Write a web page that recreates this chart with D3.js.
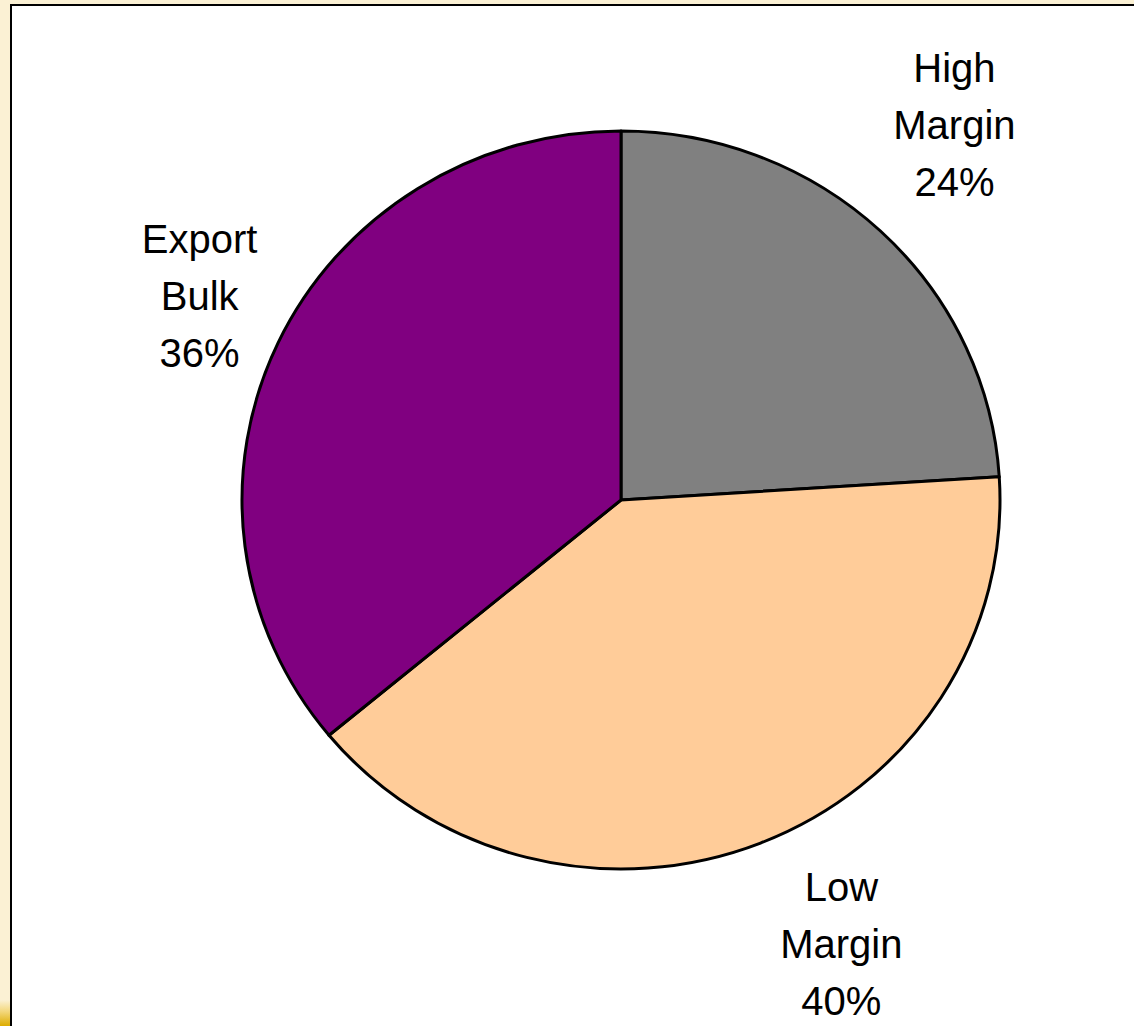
<!DOCTYPE html>
<html>
<head>
<meta charset="utf-8">
<script src="https://cdn.jsdelivr.net/npm/d3@7/dist/d3.min.js"></script>
<style>
  html, body { margin: 0; padding: 0; background: #fbf1d4; }
  svg { display: block; }
  text { font-family: "Liberation Sans", Arial, sans-serif; }
</style>
</head>
<body>
<svg id="chart" width="1134" height="1026"></svg>
<script>
// Segment shares (percent), drawn clockwise from 12 o'clock
const categories = ["High Margin", "Low Margin", "Export Bulk"];
const labelLines = [["High", "Margin"], ["Low", "Margin"], ["Export", "Bulk"]];
const shares = [24, 40, 36];
const colors = ["#808080", "#ffcc99", "#800080"];

const W = 1134, H = 1026;
const cx = 621, cy = 500, rx = 379, ry = 369;
const labelRadius = 490;
const labelNudge = [[-2, -18], [40, -12], [22, 5]];
const lineGap = 57, fontSize = 40;

const svg = d3.select("#chart");

// Slide-style backdrop with a gold accent at the lower left
const defs = svg.append("defs");
const gold = defs.append("linearGradient").attr("id", "gold")
  .attr("x1", 0).attr("y1", 0).attr("x2", 0).attr("y2", 1);
gold.append("stop").attr("offset", "0%").attr("stop-color", "#fbf1d4");
gold.append("stop").attr("offset", "45%").attr("stop-color", "#f3d77a");
gold.append("stop").attr("offset", "100%").attr("stop-color", "#ddac00");

svg.append("rect").attr("width", W).attr("height", H).attr("fill", "#fbf1d4");
svg.append("rect").attr("x", 0).attr("y", 1000).attr("width", 11).attr("height", 26)
  .attr("fill", "url(#gold)");

// Chart area
svg.append("rect")
  .attr("x", 11).attr("y", 5).attr("width", W + 10).attr("height", H + 10)
  .attr("fill", "#ffffff").attr("stroke", "#000").attr("stroke-width", 2);

const pie = d3.pie().sort(null).value(d => d)(shares);
const arc = d3.arc().innerRadius(0).outerRadius(rx);

const g = svg.append("g")
  .attr("transform", `translate(${cx},${cy}) scale(1,${ry / rx})`);

g.selectAll("path")
  .data(pie)
  .join("path")
  .attr("d", arc)
  .attr("fill", (d, i) => colors[i])
  .attr("stroke", "#000")
  .attr("stroke-width", 3)
  .attr("stroke-linejoin", "round")
  .attr("vector-effect", "non-scaling-stroke");

// Category labels placed outside each slice along its mid-angle
const labels = svg.append("g");
pie.forEach((d, i) => {
  const mid = (d.startAngle + d.endAngle) / 2;
  const x = cx + Math.sin(mid) * labelRadius + labelNudge[i][0];
  const y = cy - Math.cos(mid) * labelRadius + labelNudge[i][1];
  const lines = labelLines[i].concat([d3.format(".0f")(shares[i]) + "%"]);
  const t = labels.append("text")
    .attr("text-anchor", "middle")
    .attr("font-size", fontSize)
    .attr("fill", "#000");
  lines.forEach((s, k) => {
    t.append("tspan")
      .attr("x", x)
      .attr("y", y + (k - 1) * lineGap + 14)
      .text(s);
  });
});
</script>
</body>
</html>
